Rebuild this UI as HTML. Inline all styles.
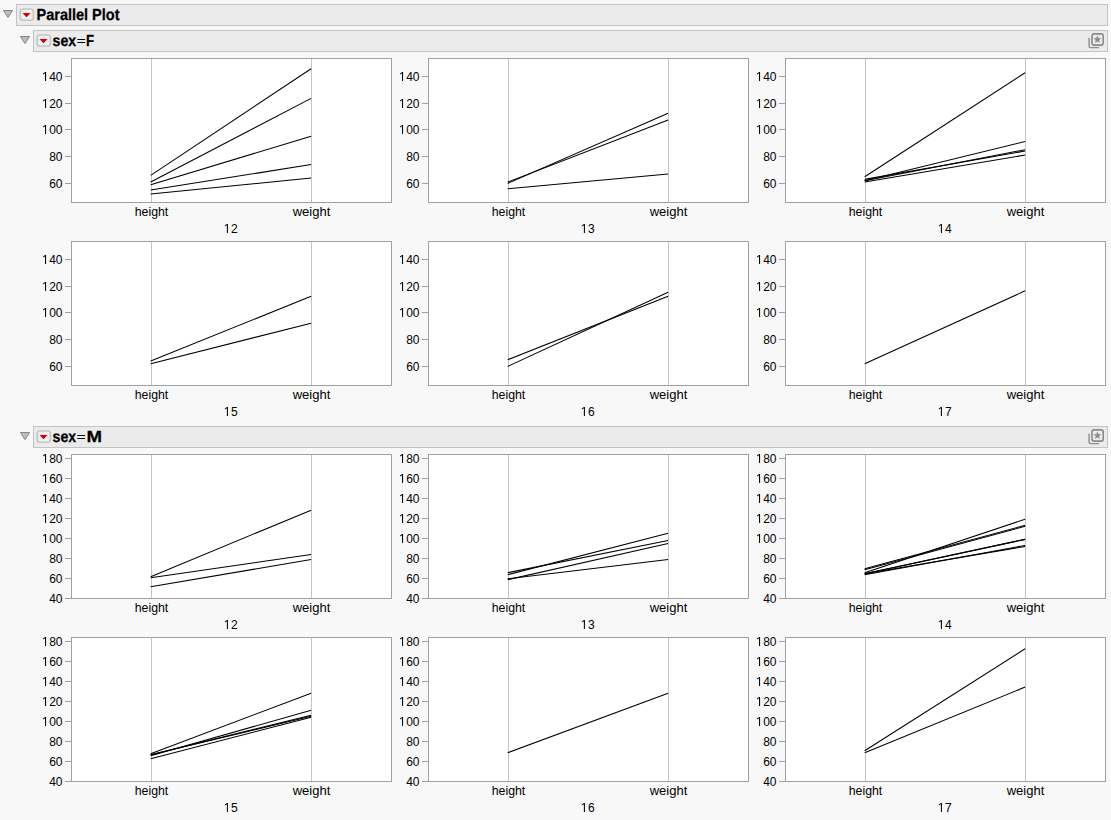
<!DOCTYPE html>
<html><head><meta charset="utf-8"><title>Parallel Plot</title>
<style>html,body{margin:0;padding:0;background:#f8f8f8;overflow:hidden;}svg{display:block;}</style>
</head><body>
<svg width="1111" height="820" viewBox="0 0 1111 820">
<defs>
<linearGradient id="redg" x1="0" y1="0" x2="1" y2="1"><stop offset="0" stop-color="#f00000"/><stop offset="1" stop-color="#a80000"/></linearGradient>
<linearGradient id="btnfill" x1="0" y1="0" x2="0" y2="1"><stop offset="0" stop-color="#f3f3f3"/><stop offset="1" stop-color="#ececec"/></linearGradient>
</defs>
<rect x="0" y="0" width="1111" height="820" fill="#f8f8f8"/>
<rect x="16.5" y="4.5" width="1091" height="21" fill="#ebebeb" stroke="#c3c3c3" stroke-width="1"/>
<path d="M3.4 10.5 L12.6 10.5 L8.0 17.6 Z" fill="#bdbdbd" stroke="#858585" stroke-width="1" stroke-linejoin="miter"/>
<rect x="20.2" y="9.0" width="13.2" height="11.3" rx="2.8" ry="2.8" fill="url(#btnfill)" stroke="#c6c6c6" stroke-width="1.6"/>
<path d="M22.5 13.0 L30.5 13.0 L26.5 17.2 Z" fill="url(#redg)"/>
<text x="36.5" y="20" font-family='"Liberation Sans", sans-serif' font-weight="bold" font-size="16" fill="#000000" stroke="#000000" stroke-width="0.25" text-rendering="geometricPrecision" textLength="83" lengthAdjust="spacingAndGlyphs">Parallel Plot</text>
<rect x="33.5" y="30.5" width="1074" height="21" fill="#ebebeb" stroke="#c3c3c3" stroke-width="1"/>
<path d="M20.4 36.5 L29.6 36.5 L25.0 43.6 Z" fill="#bdbdbd" stroke="#858585" stroke-width="1" stroke-linejoin="miter"/>
<rect x="37.2" y="35.0" width="13.2" height="11.3" rx="2.8" ry="2.8" fill="url(#btnfill)" stroke="#c6c6c6" stroke-width="1.6"/>
<path d="M39.5 39.0 L47.5 39.0 L43.5 43.2 Z" fill="url(#redg)"/>
<text x="52.6" y="46" font-family='"Liberation Sans", sans-serif' font-weight="bold" font-size="16" fill="#000000" stroke="#000000" stroke-width="0.25" text-rendering="geometricPrecision" textLength="23.5" lengthAdjust="spacingAndGlyphs">sex</text>
<rect x="77.3" y="39" width="7.799999999999997" height="1.0" fill="#000000"/>
<rect x="77.3" y="42" width="7.799999999999997" height="1.0" fill="#000000"/>
<text x="85.95" y="46" font-family='"Liberation Sans", sans-serif' font-weight="bold" font-size="16" fill="#000000" stroke="#000000" stroke-width="0.25" text-rendering="geometricPrecision" textLength="8.1" lengthAdjust="spacingAndGlyphs">F</text>
<path d="M1089.1 37.8 L1089.1 46.2 Q1089.1 47.6 1090.5 47.6 L1099.1 47.6" fill="none" stroke="#8e8e8e" stroke-width="1.4"/>
<rect x="1092.0" y="33.9" width="11.2" height="11.2" rx="2.2" fill="#ececec" stroke="#8a8a8a" stroke-width="1.6"/>
<polygon points="1097.40,35.90 1098.34,38.31 1100.92,38.46 1098.92,40.09 1099.57,42.59 1097.40,41.20 1095.23,42.59 1095.88,40.09 1093.88,38.46 1096.46,38.31" fill="#8c8c8c" stroke="#8c8c8c" stroke-width="0.4" stroke-linejoin="round"/>
<rect x="33.5" y="426.5" width="1074" height="21" fill="#ebebeb" stroke="#c3c3c3" stroke-width="1"/>
<path d="M20.4 432.5 L29.6 432.5 L25.0 439.6 Z" fill="#bdbdbd" stroke="#858585" stroke-width="1" stroke-linejoin="miter"/>
<rect x="37.2" y="431.0" width="13.2" height="11.3" rx="2.8" ry="2.8" fill="url(#btnfill)" stroke="#c6c6c6" stroke-width="1.6"/>
<path d="M39.5 435.0 L47.5 435.0 L43.5 439.2 Z" fill="url(#redg)"/>
<text x="52.6" y="442" font-family='"Liberation Sans", sans-serif' font-weight="bold" font-size="16" fill="#000000" stroke="#000000" stroke-width="0.25" text-rendering="geometricPrecision" textLength="23.5" lengthAdjust="spacingAndGlyphs">sex</text>
<rect x="77.3" y="435" width="7.799999999999997" height="1.0" fill="#000000"/>
<rect x="77.3" y="438" width="7.799999999999997" height="1.0" fill="#000000"/>
<text x="86.5" y="442" font-family='"Liberation Sans", sans-serif' font-weight="bold" font-size="16" fill="#000000" stroke="#000000" stroke-width="0.25" text-rendering="geometricPrecision" textLength="15.5" lengthAdjust="spacingAndGlyphs">M</text>
<path d="M1089.1 433.8 L1089.1 442.2 Q1089.1 443.6 1090.5 443.6 L1099.1 443.6" fill="none" stroke="#8e8e8e" stroke-width="1.4"/>
<rect x="1092.0" y="429.9" width="11.2" height="11.2" rx="2.2" fill="#ececec" stroke="#8a8a8a" stroke-width="1.6"/>
<polygon points="1097.40,431.90 1098.34,434.31 1100.92,434.46 1098.92,436.09 1099.57,438.59 1097.40,437.20 1095.23,438.59 1095.88,436.09 1093.88,434.46 1096.46,434.31" fill="#8c8c8c" stroke="#8c8c8c" stroke-width="0.4" stroke-linejoin="round"/>
<rect x="71.5" y="58.5" width="320" height="144" fill="#ffffff" stroke="#a0a0a0" stroke-width="1"/>
<line x1="151.5" y1="59" x2="151.5" y2="202" stroke="#c4c4c4" stroke-width="1"/>
<line x1="311.5" y1="59" x2="311.5" y2="202" stroke="#c4c4c4" stroke-width="1"/>
<line x1="65" y1="76.5" x2="71" y2="76.5" stroke="#a0a0a0" stroke-width="1"/>
<text x="62.5" y="80.5" text-anchor="end" font-family='"Liberation Sans", sans-serif' font-size="12" fill="#000000"> 40</text>
<line x1="65" y1="103.5" x2="71" y2="103.5" stroke="#a0a0a0" stroke-width="1"/>
<text x="62.5" y="107.5" text-anchor="end" font-family='"Liberation Sans", sans-serif' font-size="12" fill="#000000"> 20</text>
<line x1="65" y1="129.5" x2="71" y2="129.5" stroke="#a0a0a0" stroke-width="1"/>
<text x="62.5" y="133.5" text-anchor="end" font-family='"Liberation Sans", sans-serif' font-size="12" fill="#000000"> 00</text>
<line x1="65" y1="156.5" x2="71" y2="156.5" stroke="#a0a0a0" stroke-width="1"/>
<text x="62.5" y="160.5" text-anchor="end" font-family='"Liberation Sans", sans-serif' font-size="12" fill="#000000">80</text>
<line x1="65" y1="183.5" x2="71" y2="183.5" stroke="#a0a0a0" stroke-width="1"/>
<text x="62.5" y="187.5" text-anchor="end" font-family='"Liberation Sans", sans-serif' font-size="12" fill="#000000">60</text>
<line x1="150.7" y1="184.74" x2="311.1" y2="136.20" stroke="#000000" stroke-width="1.05"/>
<line x1="150.7" y1="182.06" x2="311.1" y2="98.40" stroke="#000000" stroke-width="1.05"/>
<line x1="150.7" y1="190.09" x2="311.1" y2="164.55" stroke="#000000" stroke-width="1.05"/>
<line x1="150.7" y1="175.38" x2="311.1" y2="68.70" stroke="#000000" stroke-width="1.05"/>
<line x1="150.7" y1="194.10" x2="311.1" y2="178.05" stroke="#000000" stroke-width="1.05"/>
<text x="151.5" y="216" text-anchor="middle" font-family='"Liberation Sans", sans-serif' font-size="12" fill="#000000" textLength="33.6" lengthAdjust="spacingAndGlyphs">height</text>
<text x="311.5" y="216" text-anchor="middle" font-family='"Liberation Sans", sans-serif' font-size="12" fill="#000000" textLength="37.6" lengthAdjust="spacingAndGlyphs">weight</text>
<text x="231" y="233" text-anchor="middle" font-family='"Liberation Sans", sans-serif' font-size="12" fill="#000000"> 2</text>
<rect x="428.5" y="58.5" width="320" height="144" fill="#ffffff" stroke="#a0a0a0" stroke-width="1"/>
<line x1="508.5" y1="59" x2="508.5" y2="202" stroke="#c4c4c4" stroke-width="1"/>
<line x1="668.5" y1="59" x2="668.5" y2="202" stroke="#c4c4c4" stroke-width="1"/>
<line x1="422" y1="76.5" x2="428" y2="76.5" stroke="#a0a0a0" stroke-width="1"/>
<text x="419.5" y="80.5" text-anchor="end" font-family='"Liberation Sans", sans-serif' font-size="12" fill="#000000"> 40</text>
<line x1="422" y1="103.5" x2="428" y2="103.5" stroke="#a0a0a0" stroke-width="1"/>
<text x="419.5" y="107.5" text-anchor="end" font-family='"Liberation Sans", sans-serif' font-size="12" fill="#000000"> 20</text>
<line x1="422" y1="129.5" x2="428" y2="129.5" stroke="#a0a0a0" stroke-width="1"/>
<text x="419.5" y="133.5" text-anchor="end" font-family='"Liberation Sans", sans-serif' font-size="12" fill="#000000"> 00</text>
<line x1="422" y1="156.5" x2="428" y2="156.5" stroke="#a0a0a0" stroke-width="1"/>
<text x="419.5" y="160.5" text-anchor="end" font-family='"Liberation Sans", sans-serif' font-size="12" fill="#000000">80</text>
<line x1="422" y1="183.5" x2="428" y2="183.5" stroke="#a0a0a0" stroke-width="1"/>
<text x="419.5" y="187.5" text-anchor="end" font-family='"Liberation Sans", sans-serif' font-size="12" fill="#000000">60</text>
<line x1="507.7" y1="183.40" x2="668.1" y2="113.25" stroke="#000000" stroke-width="1.05"/>
<line x1="507.7" y1="182.06" x2="668.1" y2="120.00" stroke="#000000" stroke-width="1.05"/>
<line x1="507.7" y1="188.75" x2="668.1" y2="174.00" stroke="#000000" stroke-width="1.05"/>
<text x="508.5" y="216" text-anchor="middle" font-family='"Liberation Sans", sans-serif' font-size="12" fill="#000000" textLength="33.6" lengthAdjust="spacingAndGlyphs">height</text>
<text x="668.5" y="216" text-anchor="middle" font-family='"Liberation Sans", sans-serif' font-size="12" fill="#000000" textLength="37.6" lengthAdjust="spacingAndGlyphs">weight</text>
<text x="588" y="233" text-anchor="middle" font-family='"Liberation Sans", sans-serif' font-size="12" fill="#000000"> 3</text>
<rect x="785.5" y="58.5" width="320" height="144" fill="#ffffff" stroke="#a0a0a0" stroke-width="1"/>
<line x1="865.5" y1="59" x2="865.5" y2="202" stroke="#c4c4c4" stroke-width="1"/>
<line x1="1025.5" y1="59" x2="1025.5" y2="202" stroke="#c4c4c4" stroke-width="1"/>
<line x1="779" y1="76.5" x2="785" y2="76.5" stroke="#a0a0a0" stroke-width="1"/>
<text x="776.5" y="80.5" text-anchor="end" font-family='"Liberation Sans", sans-serif' font-size="12" fill="#000000"> 40</text>
<line x1="779" y1="103.5" x2="785" y2="103.5" stroke="#a0a0a0" stroke-width="1"/>
<text x="776.5" y="107.5" text-anchor="end" font-family='"Liberation Sans", sans-serif' font-size="12" fill="#000000"> 20</text>
<line x1="779" y1="129.5" x2="785" y2="129.5" stroke="#a0a0a0" stroke-width="1"/>
<text x="776.5" y="133.5" text-anchor="end" font-family='"Liberation Sans", sans-serif' font-size="12" fill="#000000"> 00</text>
<line x1="779" y1="156.5" x2="785" y2="156.5" stroke="#a0a0a0" stroke-width="1"/>
<text x="776.5" y="160.5" text-anchor="end" font-family='"Liberation Sans", sans-serif' font-size="12" fill="#000000">80</text>
<line x1="779" y1="183.5" x2="785" y2="183.5" stroke="#a0a0a0" stroke-width="1"/>
<text x="776.5" y="187.5" text-anchor="end" font-family='"Liberation Sans", sans-serif' font-size="12" fill="#000000">60</text>
<line x1="864.7" y1="182.06" x2="1025.1" y2="155.10" stroke="#000000" stroke-width="1.05"/>
<line x1="864.7" y1="180.72" x2="1025.1" y2="141.60" stroke="#000000" stroke-width="1.05"/>
<line x1="864.7" y1="176.71" x2="1025.1" y2="72.75" stroke="#000000" stroke-width="1.05"/>
<line x1="864.7" y1="179.39" x2="1025.1" y2="151.05" stroke="#000000" stroke-width="1.05"/>
<line x1="864.7" y1="180.72" x2="1025.1" y2="149.70" stroke="#000000" stroke-width="1.05"/>
<text x="865.5" y="216" text-anchor="middle" font-family='"Liberation Sans", sans-serif' font-size="12" fill="#000000" textLength="33.6" lengthAdjust="spacingAndGlyphs">height</text>
<text x="1025.5" y="216" text-anchor="middle" font-family='"Liberation Sans", sans-serif' font-size="12" fill="#000000" textLength="37.6" lengthAdjust="spacingAndGlyphs">weight</text>
<text x="945" y="233" text-anchor="middle" font-family='"Liberation Sans", sans-serif' font-size="12" fill="#000000"> 4</text>
<rect x="71.5" y="241.5" width="320" height="144" fill="#ffffff" stroke="#a0a0a0" stroke-width="1"/>
<line x1="151.5" y1="242" x2="151.5" y2="385" stroke="#c4c4c4" stroke-width="1"/>
<line x1="311.5" y1="242" x2="311.5" y2="385" stroke="#c4c4c4" stroke-width="1"/>
<line x1="65" y1="259.5" x2="71" y2="259.5" stroke="#a0a0a0" stroke-width="1"/>
<text x="62.5" y="263.5" text-anchor="end" font-family='"Liberation Sans", sans-serif' font-size="12" fill="#000000"> 40</text>
<line x1="65" y1="286.5" x2="71" y2="286.5" stroke="#a0a0a0" stroke-width="1"/>
<text x="62.5" y="290.5" text-anchor="end" font-family='"Liberation Sans", sans-serif' font-size="12" fill="#000000"> 20</text>
<line x1="65" y1="312.5" x2="71" y2="312.5" stroke="#a0a0a0" stroke-width="1"/>
<text x="62.5" y="316.5" text-anchor="end" font-family='"Liberation Sans", sans-serif' font-size="12" fill="#000000"> 00</text>
<line x1="65" y1="339.5" x2="71" y2="339.5" stroke="#a0a0a0" stroke-width="1"/>
<text x="62.5" y="343.5" text-anchor="end" font-family='"Liberation Sans", sans-serif' font-size="12" fill="#000000">80</text>
<line x1="65" y1="366.5" x2="71" y2="366.5" stroke="#a0a0a0" stroke-width="1"/>
<text x="62.5" y="370.5" text-anchor="end" font-family='"Liberation Sans", sans-serif' font-size="12" fill="#000000">60</text>
<line x1="150.7" y1="363.72" x2="311.1" y2="323.25" stroke="#000000" stroke-width="1.05"/>
<line x1="150.7" y1="361.05" x2="311.1" y2="296.25" stroke="#000000" stroke-width="1.05"/>
<text x="151.5" y="399" text-anchor="middle" font-family='"Liberation Sans", sans-serif' font-size="12" fill="#000000" textLength="33.6" lengthAdjust="spacingAndGlyphs">height</text>
<text x="311.5" y="399" text-anchor="middle" font-family='"Liberation Sans", sans-serif' font-size="12" fill="#000000" textLength="37.6" lengthAdjust="spacingAndGlyphs">weight</text>
<text x="231" y="416" text-anchor="middle" font-family='"Liberation Sans", sans-serif' font-size="12" fill="#000000"> 5</text>
<rect x="428.5" y="241.5" width="320" height="144" fill="#ffffff" stroke="#a0a0a0" stroke-width="1"/>
<line x1="508.5" y1="242" x2="508.5" y2="385" stroke="#c4c4c4" stroke-width="1"/>
<line x1="668.5" y1="242" x2="668.5" y2="385" stroke="#c4c4c4" stroke-width="1"/>
<line x1="422" y1="259.5" x2="428" y2="259.5" stroke="#a0a0a0" stroke-width="1"/>
<text x="419.5" y="263.5" text-anchor="end" font-family='"Liberation Sans", sans-serif' font-size="12" fill="#000000"> 40</text>
<line x1="422" y1="286.5" x2="428" y2="286.5" stroke="#a0a0a0" stroke-width="1"/>
<text x="419.5" y="290.5" text-anchor="end" font-family='"Liberation Sans", sans-serif' font-size="12" fill="#000000"> 20</text>
<line x1="422" y1="312.5" x2="428" y2="312.5" stroke="#a0a0a0" stroke-width="1"/>
<text x="419.5" y="316.5" text-anchor="end" font-family='"Liberation Sans", sans-serif' font-size="12" fill="#000000"> 00</text>
<line x1="422" y1="339.5" x2="428" y2="339.5" stroke="#a0a0a0" stroke-width="1"/>
<text x="419.5" y="343.5" text-anchor="end" font-family='"Liberation Sans", sans-serif' font-size="12" fill="#000000">80</text>
<line x1="422" y1="366.5" x2="428" y2="366.5" stroke="#a0a0a0" stroke-width="1"/>
<text x="419.5" y="370.5" text-anchor="end" font-family='"Liberation Sans", sans-serif' font-size="12" fill="#000000">60</text>
<line x1="507.7" y1="366.40" x2="668.1" y2="292.20" stroke="#000000" stroke-width="1.05"/>
<line x1="507.7" y1="359.71" x2="668.1" y2="296.25" stroke="#000000" stroke-width="1.05"/>
<text x="508.5" y="399" text-anchor="middle" font-family='"Liberation Sans", sans-serif' font-size="12" fill="#000000" textLength="33.6" lengthAdjust="spacingAndGlyphs">height</text>
<text x="668.5" y="399" text-anchor="middle" font-family='"Liberation Sans", sans-serif' font-size="12" fill="#000000" textLength="37.6" lengthAdjust="spacingAndGlyphs">weight</text>
<text x="588" y="416" text-anchor="middle" font-family='"Liberation Sans", sans-serif' font-size="12" fill="#000000"> 6</text>
<rect x="785.5" y="241.5" width="320" height="144" fill="#ffffff" stroke="#a0a0a0" stroke-width="1"/>
<line x1="865.5" y1="242" x2="865.5" y2="385" stroke="#c4c4c4" stroke-width="1"/>
<line x1="1025.5" y1="242" x2="1025.5" y2="385" stroke="#c4c4c4" stroke-width="1"/>
<line x1="779" y1="259.5" x2="785" y2="259.5" stroke="#a0a0a0" stroke-width="1"/>
<text x="776.5" y="263.5" text-anchor="end" font-family='"Liberation Sans", sans-serif' font-size="12" fill="#000000"> 40</text>
<line x1="779" y1="286.5" x2="785" y2="286.5" stroke="#a0a0a0" stroke-width="1"/>
<text x="776.5" y="290.5" text-anchor="end" font-family='"Liberation Sans", sans-serif' font-size="12" fill="#000000"> 20</text>
<line x1="779" y1="312.5" x2="785" y2="312.5" stroke="#a0a0a0" stroke-width="1"/>
<text x="776.5" y="316.5" text-anchor="end" font-family='"Liberation Sans", sans-serif' font-size="12" fill="#000000"> 00</text>
<line x1="779" y1="339.5" x2="785" y2="339.5" stroke="#a0a0a0" stroke-width="1"/>
<text x="776.5" y="343.5" text-anchor="end" font-family='"Liberation Sans", sans-serif' font-size="12" fill="#000000">80</text>
<line x1="779" y1="366.5" x2="785" y2="366.5" stroke="#a0a0a0" stroke-width="1"/>
<text x="776.5" y="370.5" text-anchor="end" font-family='"Liberation Sans", sans-serif' font-size="12" fill="#000000">60</text>
<line x1="864.7" y1="363.72" x2="1025.1" y2="290.85" stroke="#000000" stroke-width="1.05"/>
<text x="865.5" y="399" text-anchor="middle" font-family='"Liberation Sans", sans-serif' font-size="12" fill="#000000" textLength="33.6" lengthAdjust="spacingAndGlyphs">height</text>
<text x="1025.5" y="399" text-anchor="middle" font-family='"Liberation Sans", sans-serif' font-size="12" fill="#000000" textLength="37.6" lengthAdjust="spacingAndGlyphs">weight</text>
<text x="945" y="416" text-anchor="middle" font-family='"Liberation Sans", sans-serif' font-size="12" fill="#000000"> 7</text>
<rect x="71.5" y="454.5" width="320" height="144" fill="#ffffff" stroke="#a0a0a0" stroke-width="1"/>
<line x1="151.5" y1="455" x2="151.5" y2="598" stroke="#c4c4c4" stroke-width="1"/>
<line x1="311.5" y1="455" x2="311.5" y2="598" stroke="#c4c4c4" stroke-width="1"/>
<line x1="65" y1="458.5" x2="71" y2="458.5" stroke="#a0a0a0" stroke-width="1"/>
<text x="62.5" y="462.5" text-anchor="end" font-family='"Liberation Sans", sans-serif' font-size="12" fill="#000000"> 80</text>
<line x1="65" y1="478.5" x2="71" y2="478.5" stroke="#a0a0a0" stroke-width="1"/>
<text x="62.5" y="482.5" text-anchor="end" font-family='"Liberation Sans", sans-serif' font-size="12" fill="#000000"> 60</text>
<line x1="65" y1="498.5" x2="71" y2="498.5" stroke="#a0a0a0" stroke-width="1"/>
<text x="62.5" y="502.5" text-anchor="end" font-family='"Liberation Sans", sans-serif' font-size="12" fill="#000000"> 40</text>
<line x1="65" y1="518.5" x2="71" y2="518.5" stroke="#a0a0a0" stroke-width="1"/>
<text x="62.5" y="522.5" text-anchor="end" font-family='"Liberation Sans", sans-serif' font-size="12" fill="#000000"> 20</text>
<line x1="65" y1="538.5" x2="71" y2="538.5" stroke="#a0a0a0" stroke-width="1"/>
<text x="62.5" y="542.5" text-anchor="end" font-family='"Liberation Sans", sans-serif' font-size="12" fill="#000000"> 00</text>
<line x1="65" y1="558.5" x2="71" y2="558.5" stroke="#a0a0a0" stroke-width="1"/>
<text x="62.5" y="562.5" text-anchor="end" font-family='"Liberation Sans", sans-serif' font-size="12" fill="#000000">80</text>
<line x1="65" y1="578.5" x2="71" y2="578.5" stroke="#a0a0a0" stroke-width="1"/>
<text x="62.5" y="582.5" text-anchor="end" font-family='"Liberation Sans", sans-serif' font-size="12" fill="#000000">60</text>
<line x1="65" y1="598.5" x2="71" y2="598.5" stroke="#a0a0a0" stroke-width="1"/>
<text x="62.5" y="602.5" text-anchor="end" font-family='"Liberation Sans", sans-serif' font-size="12" fill="#000000">40</text>
<line x1="150.7" y1="577.70" x2="311.1" y2="554.50" stroke="#000000" stroke-width="1.05"/>
<line x1="150.7" y1="576.70" x2="311.1" y2="510.15" stroke="#000000" stroke-width="1.05"/>
<line x1="150.7" y1="586.70" x2="311.1" y2="559.54" stroke="#000000" stroke-width="1.05"/>
<text x="151.5" y="612" text-anchor="middle" font-family='"Liberation Sans", sans-serif' font-size="12" fill="#000000" textLength="33.6" lengthAdjust="spacingAndGlyphs">height</text>
<text x="311.5" y="612" text-anchor="middle" font-family='"Liberation Sans", sans-serif' font-size="12" fill="#000000" textLength="37.6" lengthAdjust="spacingAndGlyphs">weight</text>
<text x="231" y="629" text-anchor="middle" font-family='"Liberation Sans", sans-serif' font-size="12" fill="#000000"> 2</text>
<rect x="428.5" y="454.5" width="320" height="144" fill="#ffffff" stroke="#a0a0a0" stroke-width="1"/>
<line x1="508.5" y1="455" x2="508.5" y2="598" stroke="#c4c4c4" stroke-width="1"/>
<line x1="668.5" y1="455" x2="668.5" y2="598" stroke="#c4c4c4" stroke-width="1"/>
<line x1="422" y1="458.5" x2="428" y2="458.5" stroke="#a0a0a0" stroke-width="1"/>
<text x="419.5" y="462.5" text-anchor="end" font-family='"Liberation Sans", sans-serif' font-size="12" fill="#000000"> 80</text>
<line x1="422" y1="478.5" x2="428" y2="478.5" stroke="#a0a0a0" stroke-width="1"/>
<text x="419.5" y="482.5" text-anchor="end" font-family='"Liberation Sans", sans-serif' font-size="12" fill="#000000"> 60</text>
<line x1="422" y1="498.5" x2="428" y2="498.5" stroke="#a0a0a0" stroke-width="1"/>
<text x="419.5" y="502.5" text-anchor="end" font-family='"Liberation Sans", sans-serif' font-size="12" fill="#000000"> 40</text>
<line x1="422" y1="518.5" x2="428" y2="518.5" stroke="#a0a0a0" stroke-width="1"/>
<text x="419.5" y="522.5" text-anchor="end" font-family='"Liberation Sans", sans-serif' font-size="12" fill="#000000"> 20</text>
<line x1="422" y1="538.5" x2="428" y2="538.5" stroke="#a0a0a0" stroke-width="1"/>
<text x="419.5" y="542.5" text-anchor="end" font-family='"Liberation Sans", sans-serif' font-size="12" fill="#000000"> 00</text>
<line x1="422" y1="558.5" x2="428" y2="558.5" stroke="#a0a0a0" stroke-width="1"/>
<text x="419.5" y="562.5" text-anchor="end" font-family='"Liberation Sans", sans-serif' font-size="12" fill="#000000">80</text>
<line x1="422" y1="578.5" x2="428" y2="578.5" stroke="#a0a0a0" stroke-width="1"/>
<text x="419.5" y="582.5" text-anchor="end" font-family='"Liberation Sans", sans-serif' font-size="12" fill="#000000">60</text>
<line x1="422" y1="598.5" x2="428" y2="598.5" stroke="#a0a0a0" stroke-width="1"/>
<text x="419.5" y="602.5" text-anchor="end" font-family='"Liberation Sans", sans-serif' font-size="12" fill="#000000">40</text>
<line x1="507.7" y1="572.70" x2="668.1" y2="540.39" stroke="#000000" stroke-width="1.05"/>
<line x1="507.7" y1="574.70" x2="668.1" y2="533.33" stroke="#000000" stroke-width="1.05"/>
<line x1="507.7" y1="579.70" x2="668.1" y2="543.41" stroke="#000000" stroke-width="1.05"/>
<line x1="507.7" y1="578.70" x2="668.1" y2="559.54" stroke="#000000" stroke-width="1.05"/>
<text x="508.5" y="612" text-anchor="middle" font-family='"Liberation Sans", sans-serif' font-size="12" fill="#000000" textLength="33.6" lengthAdjust="spacingAndGlyphs">height</text>
<text x="668.5" y="612" text-anchor="middle" font-family='"Liberation Sans", sans-serif' font-size="12" fill="#000000" textLength="37.6" lengthAdjust="spacingAndGlyphs">weight</text>
<text x="588" y="629" text-anchor="middle" font-family='"Liberation Sans", sans-serif' font-size="12" fill="#000000"> 3</text>
<rect x="785.5" y="454.5" width="320" height="144" fill="#ffffff" stroke="#a0a0a0" stroke-width="1"/>
<line x1="865.5" y1="455" x2="865.5" y2="598" stroke="#c4c4c4" stroke-width="1"/>
<line x1="1025.5" y1="455" x2="1025.5" y2="598" stroke="#c4c4c4" stroke-width="1"/>
<line x1="779" y1="458.5" x2="785" y2="458.5" stroke="#a0a0a0" stroke-width="1"/>
<text x="776.5" y="462.5" text-anchor="end" font-family='"Liberation Sans", sans-serif' font-size="12" fill="#000000"> 80</text>
<line x1="779" y1="478.5" x2="785" y2="478.5" stroke="#a0a0a0" stroke-width="1"/>
<text x="776.5" y="482.5" text-anchor="end" font-family='"Liberation Sans", sans-serif' font-size="12" fill="#000000"> 60</text>
<line x1="779" y1="498.5" x2="785" y2="498.5" stroke="#a0a0a0" stroke-width="1"/>
<text x="776.5" y="502.5" text-anchor="end" font-family='"Liberation Sans", sans-serif' font-size="12" fill="#000000"> 40</text>
<line x1="779" y1="518.5" x2="785" y2="518.5" stroke="#a0a0a0" stroke-width="1"/>
<text x="776.5" y="522.5" text-anchor="end" font-family='"Liberation Sans", sans-serif' font-size="12" fill="#000000"> 20</text>
<line x1="779" y1="538.5" x2="785" y2="538.5" stroke="#a0a0a0" stroke-width="1"/>
<text x="776.5" y="542.5" text-anchor="end" font-family='"Liberation Sans", sans-serif' font-size="12" fill="#000000"> 00</text>
<line x1="779" y1="558.5" x2="785" y2="558.5" stroke="#a0a0a0" stroke-width="1"/>
<text x="776.5" y="562.5" text-anchor="end" font-family='"Liberation Sans", sans-serif' font-size="12" fill="#000000">80</text>
<line x1="779" y1="578.5" x2="785" y2="578.5" stroke="#a0a0a0" stroke-width="1"/>
<text x="776.5" y="582.5" text-anchor="end" font-family='"Liberation Sans", sans-serif' font-size="12" fill="#000000">60</text>
<line x1="779" y1="598.5" x2="785" y2="598.5" stroke="#a0a0a0" stroke-width="1"/>
<text x="776.5" y="602.5" text-anchor="end" font-family='"Liberation Sans", sans-serif' font-size="12" fill="#000000">40</text>
<line x1="864.7" y1="574.70" x2="1025.1" y2="545.43" stroke="#000000" stroke-width="1.05"/>
<line x1="864.7" y1="573.70" x2="1025.1" y2="539.38" stroke="#000000" stroke-width="1.05"/>
<line x1="864.7" y1="572.70" x2="1025.1" y2="519.22" stroke="#000000" stroke-width="1.05"/>
<line x1="864.7" y1="573.70" x2="1025.1" y2="546.44" stroke="#000000" stroke-width="1.05"/>
<line x1="864.7" y1="569.70" x2="1025.1" y2="526.28" stroke="#000000" stroke-width="1.05"/>
<line x1="864.7" y1="573.70" x2="1025.1" y2="539.38" stroke="#000000" stroke-width="1.05"/>
<line x1="864.7" y1="568.70" x2="1025.1" y2="525.27" stroke="#000000" stroke-width="1.05"/>
<text x="865.5" y="612" text-anchor="middle" font-family='"Liberation Sans", sans-serif' font-size="12" fill="#000000" textLength="33.6" lengthAdjust="spacingAndGlyphs">height</text>
<text x="1025.5" y="612" text-anchor="middle" font-family='"Liberation Sans", sans-serif' font-size="12" fill="#000000" textLength="37.6" lengthAdjust="spacingAndGlyphs">weight</text>
<text x="945" y="629" text-anchor="middle" font-family='"Liberation Sans", sans-serif' font-size="12" fill="#000000"> 4</text>
<rect x="71.5" y="637.5" width="320" height="144" fill="#ffffff" stroke="#a0a0a0" stroke-width="1"/>
<line x1="151.5" y1="638" x2="151.5" y2="781" stroke="#c4c4c4" stroke-width="1"/>
<line x1="311.5" y1="638" x2="311.5" y2="781" stroke="#c4c4c4" stroke-width="1"/>
<line x1="65" y1="641.5" x2="71" y2="641.5" stroke="#a0a0a0" stroke-width="1"/>
<text x="62.5" y="645.5" text-anchor="end" font-family='"Liberation Sans", sans-serif' font-size="12" fill="#000000"> 80</text>
<line x1="65" y1="661.5" x2="71" y2="661.5" stroke="#a0a0a0" stroke-width="1"/>
<text x="62.5" y="665.5" text-anchor="end" font-family='"Liberation Sans", sans-serif' font-size="12" fill="#000000"> 60</text>
<line x1="65" y1="681.5" x2="71" y2="681.5" stroke="#a0a0a0" stroke-width="1"/>
<text x="62.5" y="685.5" text-anchor="end" font-family='"Liberation Sans", sans-serif' font-size="12" fill="#000000"> 40</text>
<line x1="65" y1="701.5" x2="71" y2="701.5" stroke="#a0a0a0" stroke-width="1"/>
<text x="62.5" y="705.5" text-anchor="end" font-family='"Liberation Sans", sans-serif' font-size="12" fill="#000000"> 20</text>
<line x1="65" y1="721.5" x2="71" y2="721.5" stroke="#a0a0a0" stroke-width="1"/>
<text x="62.5" y="725.5" text-anchor="end" font-family='"Liberation Sans", sans-serif' font-size="12" fill="#000000"> 00</text>
<line x1="65" y1="741.5" x2="71" y2="741.5" stroke="#a0a0a0" stroke-width="1"/>
<text x="62.5" y="745.5" text-anchor="end" font-family='"Liberation Sans", sans-serif' font-size="12" fill="#000000">80</text>
<line x1="65" y1="761.5" x2="71" y2="761.5" stroke="#a0a0a0" stroke-width="1"/>
<text x="62.5" y="765.5" text-anchor="end" font-family='"Liberation Sans", sans-serif' font-size="12" fill="#000000">60</text>
<line x1="65" y1="781.5" x2="71" y2="781.5" stroke="#a0a0a0" stroke-width="1"/>
<text x="62.5" y="785.5" text-anchor="end" font-family='"Liberation Sans", sans-serif' font-size="12" fill="#000000">40</text>
<line x1="150.7" y1="753.70" x2="311.1" y2="693.15" stroke="#000000" stroke-width="1.05"/>
<line x1="150.7" y1="755.70" x2="311.1" y2="710.28" stroke="#000000" stroke-width="1.05"/>
<line x1="150.7" y1="754.70" x2="311.1" y2="716.33" stroke="#000000" stroke-width="1.05"/>
<line x1="150.7" y1="758.70" x2="311.1" y2="717.34" stroke="#000000" stroke-width="1.05"/>
<line x1="150.7" y1="754.70" x2="311.1" y2="715.32" stroke="#000000" stroke-width="1.05"/>
<text x="151.5" y="795" text-anchor="middle" font-family='"Liberation Sans", sans-serif' font-size="12" fill="#000000" textLength="33.6" lengthAdjust="spacingAndGlyphs">height</text>
<text x="311.5" y="795" text-anchor="middle" font-family='"Liberation Sans", sans-serif' font-size="12" fill="#000000" textLength="37.6" lengthAdjust="spacingAndGlyphs">weight</text>
<text x="231" y="812" text-anchor="middle" font-family='"Liberation Sans", sans-serif' font-size="12" fill="#000000"> 5</text>
<rect x="428.5" y="637.5" width="320" height="144" fill="#ffffff" stroke="#a0a0a0" stroke-width="1"/>
<line x1="508.5" y1="638" x2="508.5" y2="781" stroke="#c4c4c4" stroke-width="1"/>
<line x1="668.5" y1="638" x2="668.5" y2="781" stroke="#c4c4c4" stroke-width="1"/>
<line x1="422" y1="641.5" x2="428" y2="641.5" stroke="#a0a0a0" stroke-width="1"/>
<text x="419.5" y="645.5" text-anchor="end" font-family='"Liberation Sans", sans-serif' font-size="12" fill="#000000"> 80</text>
<line x1="422" y1="661.5" x2="428" y2="661.5" stroke="#a0a0a0" stroke-width="1"/>
<text x="419.5" y="665.5" text-anchor="end" font-family='"Liberation Sans", sans-serif' font-size="12" fill="#000000"> 60</text>
<line x1="422" y1="681.5" x2="428" y2="681.5" stroke="#a0a0a0" stroke-width="1"/>
<text x="419.5" y="685.5" text-anchor="end" font-family='"Liberation Sans", sans-serif' font-size="12" fill="#000000"> 40</text>
<line x1="422" y1="701.5" x2="428" y2="701.5" stroke="#a0a0a0" stroke-width="1"/>
<text x="419.5" y="705.5" text-anchor="end" font-family='"Liberation Sans", sans-serif' font-size="12" fill="#000000"> 20</text>
<line x1="422" y1="721.5" x2="428" y2="721.5" stroke="#a0a0a0" stroke-width="1"/>
<text x="419.5" y="725.5" text-anchor="end" font-family='"Liberation Sans", sans-serif' font-size="12" fill="#000000"> 00</text>
<line x1="422" y1="741.5" x2="428" y2="741.5" stroke="#a0a0a0" stroke-width="1"/>
<text x="419.5" y="745.5" text-anchor="end" font-family='"Liberation Sans", sans-serif' font-size="12" fill="#000000">80</text>
<line x1="422" y1="761.5" x2="428" y2="761.5" stroke="#a0a0a0" stroke-width="1"/>
<text x="419.5" y="765.5" text-anchor="end" font-family='"Liberation Sans", sans-serif' font-size="12" fill="#000000">60</text>
<line x1="422" y1="781.5" x2="428" y2="781.5" stroke="#a0a0a0" stroke-width="1"/>
<text x="419.5" y="785.5" text-anchor="end" font-family='"Liberation Sans", sans-serif' font-size="12" fill="#000000">40</text>
<line x1="507.7" y1="752.70" x2="668.1" y2="693.15" stroke="#000000" stroke-width="1.05"/>
<text x="508.5" y="795" text-anchor="middle" font-family='"Liberation Sans", sans-serif' font-size="12" fill="#000000" textLength="33.6" lengthAdjust="spacingAndGlyphs">height</text>
<text x="668.5" y="795" text-anchor="middle" font-family='"Liberation Sans", sans-serif' font-size="12" fill="#000000" textLength="37.6" lengthAdjust="spacingAndGlyphs">weight</text>
<text x="588" y="812" text-anchor="middle" font-family='"Liberation Sans", sans-serif' font-size="12" fill="#000000"> 6</text>
<rect x="785.5" y="637.5" width="320" height="144" fill="#ffffff" stroke="#a0a0a0" stroke-width="1"/>
<line x1="865.5" y1="638" x2="865.5" y2="781" stroke="#c4c4c4" stroke-width="1"/>
<line x1="1025.5" y1="638" x2="1025.5" y2="781" stroke="#c4c4c4" stroke-width="1"/>
<line x1="779" y1="641.5" x2="785" y2="641.5" stroke="#a0a0a0" stroke-width="1"/>
<text x="776.5" y="645.5" text-anchor="end" font-family='"Liberation Sans", sans-serif' font-size="12" fill="#000000"> 80</text>
<line x1="779" y1="661.5" x2="785" y2="661.5" stroke="#a0a0a0" stroke-width="1"/>
<text x="776.5" y="665.5" text-anchor="end" font-family='"Liberation Sans", sans-serif' font-size="12" fill="#000000"> 60</text>
<line x1="779" y1="681.5" x2="785" y2="681.5" stroke="#a0a0a0" stroke-width="1"/>
<text x="776.5" y="685.5" text-anchor="end" font-family='"Liberation Sans", sans-serif' font-size="12" fill="#000000"> 40</text>
<line x1="779" y1="701.5" x2="785" y2="701.5" stroke="#a0a0a0" stroke-width="1"/>
<text x="776.5" y="705.5" text-anchor="end" font-family='"Liberation Sans", sans-serif' font-size="12" fill="#000000"> 20</text>
<line x1="779" y1="721.5" x2="785" y2="721.5" stroke="#a0a0a0" stroke-width="1"/>
<text x="776.5" y="725.5" text-anchor="end" font-family='"Liberation Sans", sans-serif' font-size="12" fill="#000000"> 00</text>
<line x1="779" y1="741.5" x2="785" y2="741.5" stroke="#a0a0a0" stroke-width="1"/>
<text x="776.5" y="745.5" text-anchor="end" font-family='"Liberation Sans", sans-serif' font-size="12" fill="#000000">80</text>
<line x1="779" y1="761.5" x2="785" y2="761.5" stroke="#a0a0a0" stroke-width="1"/>
<text x="776.5" y="765.5" text-anchor="end" font-family='"Liberation Sans", sans-serif' font-size="12" fill="#000000">60</text>
<line x1="779" y1="781.5" x2="785" y2="781.5" stroke="#a0a0a0" stroke-width="1"/>
<text x="776.5" y="785.5" text-anchor="end" font-family='"Liberation Sans", sans-serif' font-size="12" fill="#000000">40</text>
<line x1="864.7" y1="752.70" x2="1025.1" y2="687.10" stroke="#000000" stroke-width="1.05"/>
<line x1="864.7" y1="750.70" x2="1025.1" y2="648.80" stroke="#000000" stroke-width="1.05"/>
<text x="865.5" y="795" text-anchor="middle" font-family='"Liberation Sans", sans-serif' font-size="12" fill="#000000" textLength="33.6" lengthAdjust="spacingAndGlyphs">height</text>
<text x="1025.5" y="795" text-anchor="middle" font-family='"Liberation Sans", sans-serif' font-size="12" fill="#000000" textLength="37.6" lengthAdjust="spacingAndGlyphs">weight</text>
<text x="945" y="812" text-anchor="middle" font-family='"Liberation Sans", sans-serif' font-size="12" fill="#000000"> 7</text>
<path d="M46.08 72 L46.08 81 L45.03 81 L45.03 73.30 L43.03 74.40 L43.03 73.40 L45.13 72 Z M46.08 99 L46.08 108 L45.03 108 L45.03 100.30 L43.03 101.40 L43.03 100.40 L45.13 99 Z M46.08 125 L46.08 134 L45.03 134 L45.03 126.30 L43.03 127.40 L43.03 126.40 L45.13 125 Z M227.93 224 L227.93 233 L226.88 233 L226.88 225.30 L224.88 226.40 L224.88 225.40 L226.98 224 Z M403.08 72 L403.08 81 L402.03 81 L402.03 73.30 L400.03 74.40 L400.03 73.40 L402.13 72 Z M403.08 99 L403.08 108 L402.03 108 L402.03 100.30 L400.03 101.40 L400.03 100.40 L402.13 99 Z M403.08 125 L403.08 134 L402.03 134 L402.03 126.30 L400.03 127.40 L400.03 126.40 L402.13 125 Z M584.93 224 L584.93 233 L583.88 233 L583.88 225.30 L581.88 226.40 L581.88 225.40 L583.98 224 Z M760.08 72 L760.08 81 L759.03 81 L759.03 73.30 L757.03 74.40 L757.03 73.40 L759.13 72 Z M760.08 99 L760.08 108 L759.03 108 L759.03 100.30 L757.03 101.40 L757.03 100.40 L759.13 99 Z M760.08 125 L760.08 134 L759.03 134 L759.03 126.30 L757.03 127.40 L757.03 126.40 L759.13 125 Z M941.93 224 L941.93 233 L940.88 233 L940.88 225.30 L938.88 226.40 L938.88 225.40 L940.98 224 Z M46.08 255 L46.08 264 L45.03 264 L45.03 256.30 L43.03 257.40 L43.03 256.40 L45.13 255 Z M46.08 282 L46.08 291 L45.03 291 L45.03 283.30 L43.03 284.40 L43.03 283.40 L45.13 282 Z M46.08 308 L46.08 317 L45.03 317 L45.03 309.30 L43.03 310.40 L43.03 309.40 L45.13 308 Z M227.93 407 L227.93 416 L226.88 416 L226.88 408.30 L224.88 409.40 L224.88 408.40 L226.98 407 Z M403.08 255 L403.08 264 L402.03 264 L402.03 256.30 L400.03 257.40 L400.03 256.40 L402.13 255 Z M403.08 282 L403.08 291 L402.03 291 L402.03 283.30 L400.03 284.40 L400.03 283.40 L402.13 282 Z M403.08 308 L403.08 317 L402.03 317 L402.03 309.30 L400.03 310.40 L400.03 309.40 L402.13 308 Z M584.93 407 L584.93 416 L583.88 416 L583.88 408.30 L581.88 409.40 L581.88 408.40 L583.98 407 Z M760.08 255 L760.08 264 L759.03 264 L759.03 256.30 L757.03 257.40 L757.03 256.40 L759.13 255 Z M760.08 282 L760.08 291 L759.03 291 L759.03 283.30 L757.03 284.40 L757.03 283.40 L759.13 282 Z M760.08 308 L760.08 317 L759.03 317 L759.03 309.30 L757.03 310.40 L757.03 309.40 L759.13 308 Z M941.93 407 L941.93 416 L940.88 416 L940.88 408.30 L938.88 409.40 L938.88 408.40 L940.98 407 Z M46.08 454 L46.08 463 L45.03 463 L45.03 455.30 L43.03 456.40 L43.03 455.40 L45.13 454 Z M46.08 474 L46.08 483 L45.03 483 L45.03 475.30 L43.03 476.40 L43.03 475.40 L45.13 474 Z M46.08 494 L46.08 503 L45.03 503 L45.03 495.30 L43.03 496.40 L43.03 495.40 L45.13 494 Z M46.08 514 L46.08 523 L45.03 523 L45.03 515.30 L43.03 516.40 L43.03 515.40 L45.13 514 Z M46.08 534 L46.08 543 L45.03 543 L45.03 535.30 L43.03 536.40 L43.03 535.40 L45.13 534 Z M227.93 620 L227.93 629 L226.88 629 L226.88 621.30 L224.88 622.40 L224.88 621.40 L226.98 620 Z M403.08 454 L403.08 463 L402.03 463 L402.03 455.30 L400.03 456.40 L400.03 455.40 L402.13 454 Z M403.08 474 L403.08 483 L402.03 483 L402.03 475.30 L400.03 476.40 L400.03 475.40 L402.13 474 Z M403.08 494 L403.08 503 L402.03 503 L402.03 495.30 L400.03 496.40 L400.03 495.40 L402.13 494 Z M403.08 514 L403.08 523 L402.03 523 L402.03 515.30 L400.03 516.40 L400.03 515.40 L402.13 514 Z M403.08 534 L403.08 543 L402.03 543 L402.03 535.30 L400.03 536.40 L400.03 535.40 L402.13 534 Z M584.93 620 L584.93 629 L583.88 629 L583.88 621.30 L581.88 622.40 L581.88 621.40 L583.98 620 Z M760.08 454 L760.08 463 L759.03 463 L759.03 455.30 L757.03 456.40 L757.03 455.40 L759.13 454 Z M760.08 474 L760.08 483 L759.03 483 L759.03 475.30 L757.03 476.40 L757.03 475.40 L759.13 474 Z M760.08 494 L760.08 503 L759.03 503 L759.03 495.30 L757.03 496.40 L757.03 495.40 L759.13 494 Z M760.08 514 L760.08 523 L759.03 523 L759.03 515.30 L757.03 516.40 L757.03 515.40 L759.13 514 Z M760.08 534 L760.08 543 L759.03 543 L759.03 535.30 L757.03 536.40 L757.03 535.40 L759.13 534 Z M941.93 620 L941.93 629 L940.88 629 L940.88 621.30 L938.88 622.40 L938.88 621.40 L940.98 620 Z M46.08 637 L46.08 646 L45.03 646 L45.03 638.30 L43.03 639.40 L43.03 638.40 L45.13 637 Z M46.08 657 L46.08 666 L45.03 666 L45.03 658.30 L43.03 659.40 L43.03 658.40 L45.13 657 Z M46.08 677 L46.08 686 L45.03 686 L45.03 678.30 L43.03 679.40 L43.03 678.40 L45.13 677 Z M46.08 697 L46.08 706 L45.03 706 L45.03 698.30 L43.03 699.40 L43.03 698.40 L45.13 697 Z M46.08 717 L46.08 726 L45.03 726 L45.03 718.30 L43.03 719.40 L43.03 718.40 L45.13 717 Z M227.93 803 L227.93 812 L226.88 812 L226.88 804.30 L224.88 805.40 L224.88 804.40 L226.98 803 Z M403.08 637 L403.08 646 L402.03 646 L402.03 638.30 L400.03 639.40 L400.03 638.40 L402.13 637 Z M403.08 657 L403.08 666 L402.03 666 L402.03 658.30 L400.03 659.40 L400.03 658.40 L402.13 657 Z M403.08 677 L403.08 686 L402.03 686 L402.03 678.30 L400.03 679.40 L400.03 678.40 L402.13 677 Z M403.08 697 L403.08 706 L402.03 706 L402.03 698.30 L400.03 699.40 L400.03 698.40 L402.13 697 Z M403.08 717 L403.08 726 L402.03 726 L402.03 718.30 L400.03 719.40 L400.03 718.40 L402.13 717 Z M584.93 803 L584.93 812 L583.88 812 L583.88 804.30 L581.88 805.40 L581.88 804.40 L583.98 803 Z M760.08 637 L760.08 646 L759.03 646 L759.03 638.30 L757.03 639.40 L757.03 638.40 L759.13 637 Z M760.08 657 L760.08 666 L759.03 666 L759.03 658.30 L757.03 659.40 L757.03 658.40 L759.13 657 Z M760.08 677 L760.08 686 L759.03 686 L759.03 678.30 L757.03 679.40 L757.03 678.40 L759.13 677 Z M760.08 697 L760.08 706 L759.03 706 L759.03 698.30 L757.03 699.40 L757.03 698.40 L759.13 697 Z M760.08 717 L760.08 726 L759.03 726 L759.03 718.30 L757.03 719.40 L757.03 718.40 L759.13 717 Z M941.93 803 L941.93 812 L940.88 812 L940.88 804.30 L938.88 805.40 L938.88 804.40 L940.98 803 Z" fill="#000000"/>
</svg>
</body></html>
